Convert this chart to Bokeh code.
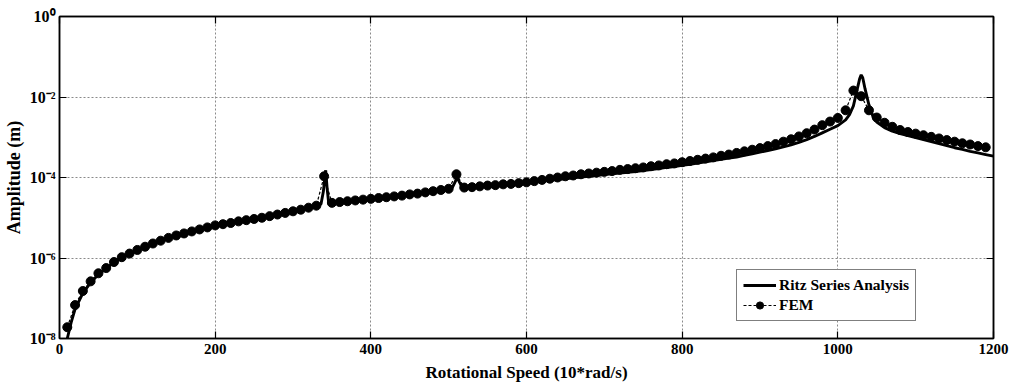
from bokeh.plotting import figure
from bokeh.models import (FixedTicker, LinearAxis, CustomJSTickFormatter,
                          Legend, LegendItem, Range1d)
from bokeh.embed import file_html
from bokeh.resources import INLINE

# ---------------- data ----------------
x_ticks = [0, 200, 400, 600, 800, 1000, 1200]
y_ticks = [1e-8, 1e-6, 1e-4, 1e-2, 1.0]

# FEM samples every 10 (10*rad/s) ; log10 of amplitude (m)
fem_speed = list(range(10, 1200, 10))
fem_log_amp = [
    -7.72, -7.17, -6.82, -6.58, -6.38, -6.25, -6.10, -5.98, -5.89, -5.80,   # 10-100
    -5.72, -5.64, -5.57, -5.50, -5.44, -5.39, -5.34, -5.29, -5.24, -5.19,   # 110-200
    -5.16, -5.13, -5.09, -5.06, -5.03, -5.00, -4.96, -4.92, -4.88, -4.84,   # 210-300
    -4.80, -4.75, -4.70, -3.97, -4.63, -4.61, -4.59, -4.57, -4.55, -4.53,   # 310-400
    -4.51, -4.49, -4.47, -4.45, -4.42, -4.40, -4.37, -4.34, -4.31, -4.28,   # 410-500
    -3.92, -4.25, -4.24, -4.22, -4.20, -4.19, -4.17, -4.16, -4.14, -4.12,   # 510-600
    -4.09, -4.06, -4.03, -4.00, -3.97, -3.95, -3.92, -3.90, -3.88, -3.86,   # 610-700
    -3.84, -3.81, -3.79, -3.77, -3.75, -3.72, -3.70, -3.67, -3.65, -3.62,   # 710-800
    -3.59, -3.56, -3.53, -3.50, -3.46, -3.43, -3.39, -3.35, -3.31, -3.27,   # 810-900
    -3.22, -3.17, -3.11, -3.05, -2.98, -2.90, -2.81, -2.70, -2.61, -2.52,   # 910-1000
    -2.33, -1.84, -1.98, -2.33, -2.51, -2.64, -2.74, -2.82, -2.87, -2.91,   # 1010-1100
    -2.95, -2.99, -3.03, -3.07, -3.11, -3.15, -3.18, -3.22, -3.25,          # 1110-1190
]

# Ritz series analysis curve ; log10 of amplitude (m)
ritz_speed = [
    10, 15, 20, 30, 40, 50, 60, 70, 80, 90, 100,
    110, 120, 130, 140, 150, 160, 170, 180, 190, 200,
    210, 220, 230, 240, 250, 260, 270, 280, 290, 300,
    310, 320, 330, 336, 339, 342, 344, 346, 350,
    360, 370, 380, 390, 400, 410, 420, 430, 440, 450,
    460, 470, 480, 490, 500, 505, 508, 511, 514, 517, 520,
    530, 540, 550, 560, 570, 580, 590, 600,
    610, 620, 630, 640, 650, 660, 670, 680, 690, 700,
    710, 720, 730, 740, 750, 760, 770, 780, 790, 800,
    810, 820, 830, 840, 850, 860, 870, 880, 890, 900,
    910, 920, 930, 940, 950, 960, 970, 980, 990, 1000,
    1010, 1015, 1020, 1025, 1028, 1030, 1032, 1035, 1040, 1045, 1050,
    1060, 1070, 1080, 1090, 1100, 1110, 1120, 1130, 1140, 1150,
    1160, 1170, 1180, 1190, 1200,
]
ritz_log_amp = [
    -8.00, -7.60, -7.27, -6.87, -6.61, -6.41, -6.26, -6.11, -5.99, -5.89, -5.80,
    -5.72, -5.64, -5.57, -5.50, -5.44, -5.39, -5.34, -5.29, -5.24, -5.19,
    -5.16, -5.13, -5.09, -5.06, -5.03, -5.00, -4.96, -4.92, -4.88, -4.84,
    -4.80, -4.76, -4.72, -4.66, -4.35, -3.82, -4.30, -4.66, -4.64,
    -4.61, -4.59, -4.57, -4.55, -4.53, -4.51, -4.49, -4.47, -4.45, -4.42,
    -4.40, -4.37, -4.34, -4.31, -4.29, -4.24, -4.12, -4.00, -4.12, -4.23, -4.26,
    -4.25, -4.23, -4.21, -4.20, -4.18, -4.17, -4.15, -4.14,
    -4.11, -4.09, -4.07, -4.05, -4.03, -4.01, -3.99, -3.97, -3.95, -3.93,
    -3.91, -3.89, -3.87, -3.85, -3.83, -3.80, -3.78, -3.75, -3.73, -3.70,
    -3.67, -3.64, -3.61, -3.58, -3.55, -3.52, -3.49, -3.45, -3.41, -3.37,
    -3.33, -3.29, -3.24, -3.19, -3.13, -3.06, -2.98, -2.89, -2.80, -2.71,
    -2.57, -2.44, -2.22, -1.80, -1.55, -1.45, -1.52, -1.80, -2.20, -2.48, -2.62,
    -2.76, -2.85, -2.91, -2.96, -3.01, -3.06, -3.11, -3.16, -3.21, -3.26,
    -3.30, -3.35, -3.39, -3.43, -3.47,
]

fem_amp = [10 ** v for v in fem_log_amp]
ritz_amp = [10 ** v for v in ritz_log_amp]

# ---------------- figure ----------------
FONT = "Liberation Serif"

p = figure(width=1012, height=385, y_axis_type="log",
           x_range=Range1d(0, 1200), y_range=Range1d(1e-8, 1.0),
           output_backend="svg", toolbar_location=None,
           min_border_left=58, min_border_right=19,
           min_border_top=16, min_border_bottom=47)
p.outline_line_color = "black"
p.outline_line_width = 1.5
p.background_fill_color = "white"
p.border_fill_color = "white"

sup_js = """
const m = {'-':'\\u207B','0':'\\u2070','1':'\\u00B9','2':'\\u00B2','3':'\\u00B3',
           '4':'\\u2074','5':'\\u2075','6':'\\u2076','7':'\\u2077','8':'\\u2078','9':'\\u2079'};
const e = Math.round(Math.log10(tick));
return '10' + String(e).split('').map(c => m[c]).join('');
"""

for ax in p.xaxis:
    ax.ticker = FixedTicker(ticks=x_ticks)
for ax in p.yaxis:
    ax.ticker = FixedTicker(ticks=y_ticks)
    ax.formatter = CustomJSTickFormatter(code=sup_js)

for ax in list(p.xaxis) + list(p.yaxis):
    ax.major_tick_in = 7
    ax.major_tick_out = 0
    ax.minor_tick_line_color = None
    ax.axis_line_width = 1.5
    ax.axis_line_color = "black"
    ax.major_tick_line_color = "black"
    ax.major_tick_line_width = 1.2
    ax.major_label_text_font = FONT
    ax.major_label_text_font_style = "bold"
    ax.major_label_text_color = "black"
    ax.major_label_standoff = 4
    ax.axis_label_text_font = FONT
    ax.axis_label_text_font_style = "bold"
    ax.axis_label_text_color = "black"

p.xaxis.major_label_text_font_size = "15px"
p.yaxis.major_label_text_font_size = "16px"
p.xaxis.major_label_standoff = 5
p.xaxis.axis_label = "Rotational Speed (10*rad/s)"
p.xaxis.axis_label_text_font_size = "17px"
p.xaxis.axis_label_standoff = 6
p.yaxis.axis_label = "Amplitude (m)"
p.yaxis.axis_label_text_font_size = "18px"
p.yaxis.axis_label_standoff = 3

# mirror axes (MATLAB box style): tick marks only
top = LinearAxis(ticker=FixedTicker(ticks=x_ticks),
                 major_label_overrides={t: "" for t in x_ticks},
                 major_tick_in=7, major_tick_out=0, minor_tick_line_color=None,
                 axis_line_width=1.5, major_tick_line_width=1.2, major_label_standoff=0)
right = LinearAxis(ticker=FixedTicker(ticks=y_ticks),
                   formatter=CustomJSTickFormatter(code="return '';"),
                   major_tick_in=7, major_tick_out=0, minor_tick_line_color=None,
                   axis_line_width=1.5, major_tick_line_width=1.2, major_label_standoff=0)
p.add_layout(top, "above")
p.add_layout(right, "right")

for g in (p.xgrid, p.ygrid):
    g.grid_line_color = "#8a8a8a"
    g.grid_line_dash = "2 2"
    g.grid_line_width = 1
p.ygrid.ticker = FixedTicker(ticks=y_ticks)
p.xgrid.ticker = FixedTicker(ticks=x_ticks)

ritz = p.line(ritz_speed, ritz_amp, line_color="black", line_width=2.9)
fem_line = p.line(fem_speed, fem_amp, line_color="black", line_width=1.2, line_dash="3 2")
fem_pts = p.scatter(fem_speed, fem_amp, size=9, marker="circle",
                    fill_color="black", line_color="black")

legend = Legend(items=[LegendItem(label="Ritz Series Analysis", renderers=[ritz]),
                       LegendItem(label="FEM", renderers=[fem_line, fem_pts])],
                location=(677, 17))
legend.border_line_color = "black"
legend.border_line_width = 1.2
legend.background_fill_color = "white"
legend.background_fill_alpha = 1
legend.label_text_font = FONT
legend.label_text_font_style = "bold"
legend.label_text_font_size = "15.5px"
legend.label_text_color = "black"
legend.glyph_width = 33
legend.glyph_height = 18
legend.label_height = 18
legend.label_standoff = 3
legend.spacing = 2
legend.padding = 6
legend.margin = 0
p.add_layout(legend)

open("out.html", "w", encoding="utf-8").write(file_html(p, INLINE))
